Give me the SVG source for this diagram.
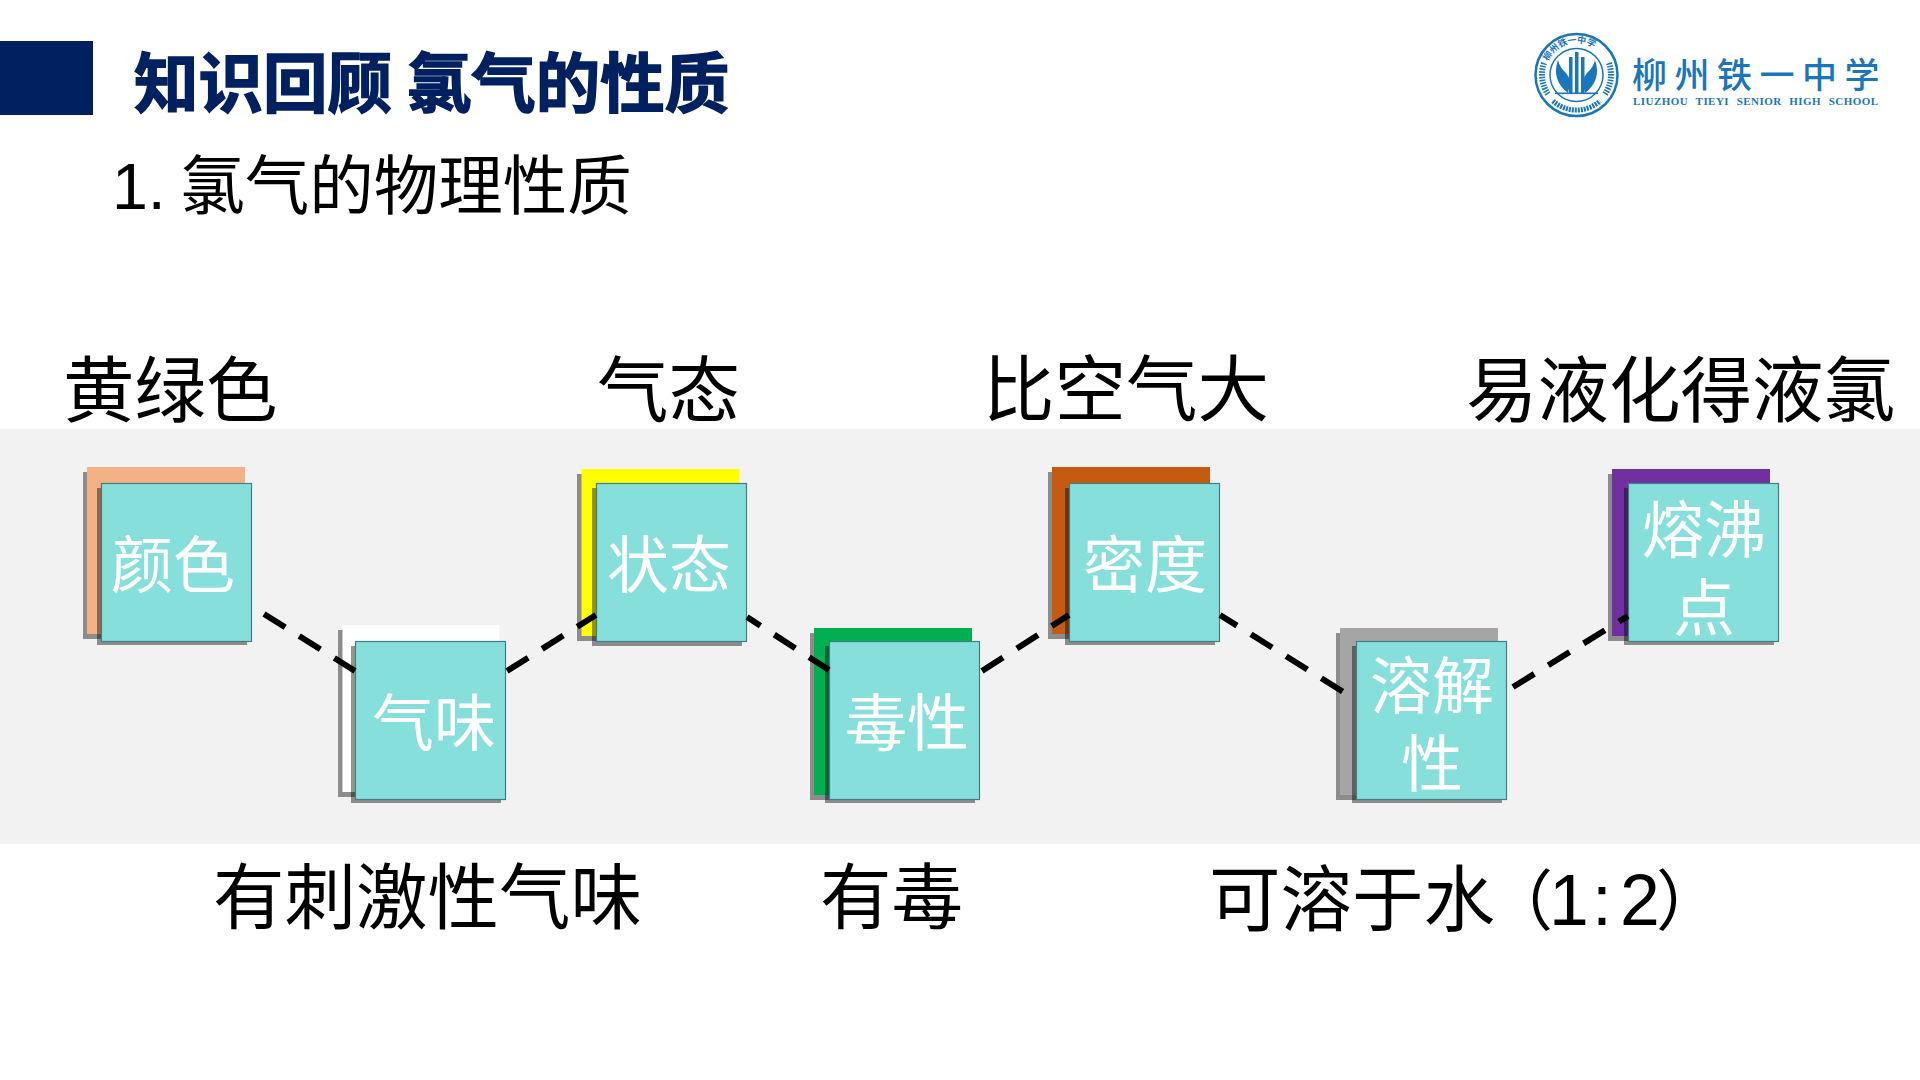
<svg xmlns="http://www.w3.org/2000/svg" width="1920" height="1080" viewBox="0 0 1920 1080">
<style>
text{font-family:"Noto Sans CJK SC","Noto Sans",sans-serif}
.lab{font-size:71.5px;fill:#000}
.lat{font-family:"Liberation Sans",Arial,sans-serif}
.par{font-size:66px}
.t{font-size:62px;fill:#fff;text-anchor:middle}
.f{fill:#87dfdc;stroke:#3f7f85;stroke-width:1.2}
.s{fill:#000;fill-opacity:.42}
.c{fill:none;stroke:#000;stroke-width:6;stroke-dasharray:25 16.5}
.logo{fill:#1a75bb}
.ln{fill:none;stroke:#1a75bb}
</style>
<defs>
<path id="ringTop" d="M1545 75A32 32 0 0 1 1609 75"/>
</defs>
<rect width="1920" height="1080" fill="#fff"/>
<rect x="0" y="429" width="1920" height="415" fill="#f2f2f2"/>
<g id="header">
<rect x="0" y="41" width="93" height="74" fill="#002060"/>
<text x="134" y="107" font-size="64.5" font-weight="700" fill="#002060" stroke="#002060" stroke-width="1.5">知识回顾 氯气的性质</text>
<text x="112" y="209" font-size="64.5" fill="#000"><tspan class="lat">1.</tspan> 氯气的物理性质</text>
</g>
<g id="logo">
<circle cx="1576.5" cy="75" r="41" fill="#fff" stroke="#1a75bb" stroke-width="2.5"/>
<circle cx="1576.5" cy="75" r="26.5" fill="none" stroke="#1a75bb" stroke-width="1.5"/>
<text font-size="9" font-weight="700" class="logo"><textPath href="#ringTop" startOffset="14">柳州铁一中学</textPath></text>
<path class="ln" stroke-width="6" stroke-dasharray="1.6 1.2" d="M1544 63A35 35 0 0 0 1548 94"/>
<path class="ln" stroke-width="6" stroke-dasharray="1.6 1.2" d="M1609 63A35 35 0 0 1 1605 94"/>
<path class="ln" stroke-width="5" stroke-dasharray="2 1" d="M1553 101A35 35 0 0 0 1600 101"/>
<path class="logo" d="M1558 60q-7 20 10 33q4-14-2-20q-6-5-8-13zM1595 60q7 20-10 33q-4-14 2-20q6-5 8-13z"/>
<rect class="logo" x="1569" y="57" width="3.5" height="36"/><rect class="logo" x="1575" y="52" width="3.5" height="41"/><rect class="logo" x="1581" y="57" width="3.5" height="36"/>
<rect class="logo" x="1555" y="92.5" width="43" height="1.6"/>
<text class="logo" font-size="35" font-weight="500" x="1632" y="88" letter-spacing="7.5">柳州铁一中学<tspan x="1633" y="105" font-size="11" font-weight="700" letter-spacing=".45" word-spacing="4.5" style="font-family:'Liberation Serif',serif">LIUZHOU TIEYI SENIOR HIGH SCHOOL</tspan></text>
</g>
<g id="labels">
<text class="lab" x="63" y="416">黄绿色</text>
<text class="lab" x="597" y="416">气态</text>
<text class="lab" x="983" y="415">比空气大</text>
<text class="lab" x="1466" y="416">易液化得液氯</text>
<text class="lab" x="213" y="923">有刺激性气味</text>
<text class="lab" x="820" y="923">有毒</text>
<text class="lab" x="1209" y="925">可溶于<tspan letter-spacing="-8">水</tspan><tspan class="par" letter-spacing="-4">（</tspan><tspan class="lat" x="1549">1</tspan><tspan class="lat" x="1592">:</tspan><tspan class="lat" x="1620" letter-spacing="-3">2</tspan><tspan class="par" x="1656">）</tspan></text>
</g>
<g id="node-color">
<rect class="s" x="83" y="472" width="158" height="167"/><rect x="87" y="467" width="158" height="167" fill="#f4b183"/>
<rect class="s" x="97" y="488" width="150" height="157"/><rect class="f" x="101.5" y="483.5" width="150" height="158"/>
<text class="t" x="173" y="588">颜色</text></g>
<g id="node-smell">
<rect class="s" x="338" y="630" width="158" height="167"/><rect x="342.5" y="625" width="157" height="167" fill="#fff"/>
<rect class="s" x="351" y="646" width="150" height="157"/><rect class="f" x="355.5" y="641.5" width="150" height="158"/>
<text class="t" x="434" y="746">气味</text></g>
<g id="node-state">
<rect class="s" x="577" y="474" width="158" height="167"/><rect x="581.5" y="469" width="158" height="167" fill="#ffff00"/>
<rect class="s" x="592" y="488" width="150" height="158"/><rect class="f" x="596.5" y="483.5" width="150" height="158"/>
<text class="t" x="669" y="588">状态</text></g>
<g id="node-toxic">
<rect class="s" x="810" y="633" width="158" height="167"/><rect x="814" y="628" width="158" height="167" fill="#00b050"/>
<rect class="s" x="825" y="646" width="150" height="157"/><rect class="f" x="829.5" y="641.5" width="150" height="158"/>
<text class="t" x="907" y="746">毒性</text></g>
<g id="node-density">
<rect class="s" x="1048" y="472" width="158" height="167"/><rect x="1052" y="467" width="158" height="167" fill="#c55a11"/>
<rect class="s" x="1065" y="488" width="150" height="157"/><rect class="f" x="1069.5" y="483.5" width="150" height="158"/>
<text class="t" x="1145" y="588">密度</text></g>
<g id="node-solubility">
<rect class="s" x="1336" y="633" width="158" height="167"/><rect x="1340" y="628" width="158" height="167" fill="#a5a5a5"/>
<rect class="s" x="1352" y="646" width="150" height="157"/><rect class="f" x="1356.5" y="641.5" width="150" height="158"/>
<text class="t" x="1432" y="709">溶解<tspan x="1432" y="787">性</tspan></text></g>
<g id="node-melting">
<rect class="s" x="1608" y="474" width="158" height="167"/><rect x="1612" y="469" width="158" height="167" fill="#7030a0"/>
<rect class="s" x="1624" y="488" width="150" height="157"/><rect class="f" x="1628.5" y="483.5" width="150" height="158"/>
<text class="t" x="1704" y="553">熔沸<tspan x="1704" y="631">点</tspan></text></g>
<g id="connectors">
<path class="c" d="M264 614L355 671"/>
<path class="c" d="M507 671L596 615"/>
<path class="c" d="M747 617L829 670" stroke-dashoffset="9"/>
<path class="c" d="M982 671L1069 615"/>
<path class="c" d="M1220 615L1345 693" stroke-dashoffset="5"/>
<path class="c" d="M1513 687L1628 616"/>
</g>
</svg>
